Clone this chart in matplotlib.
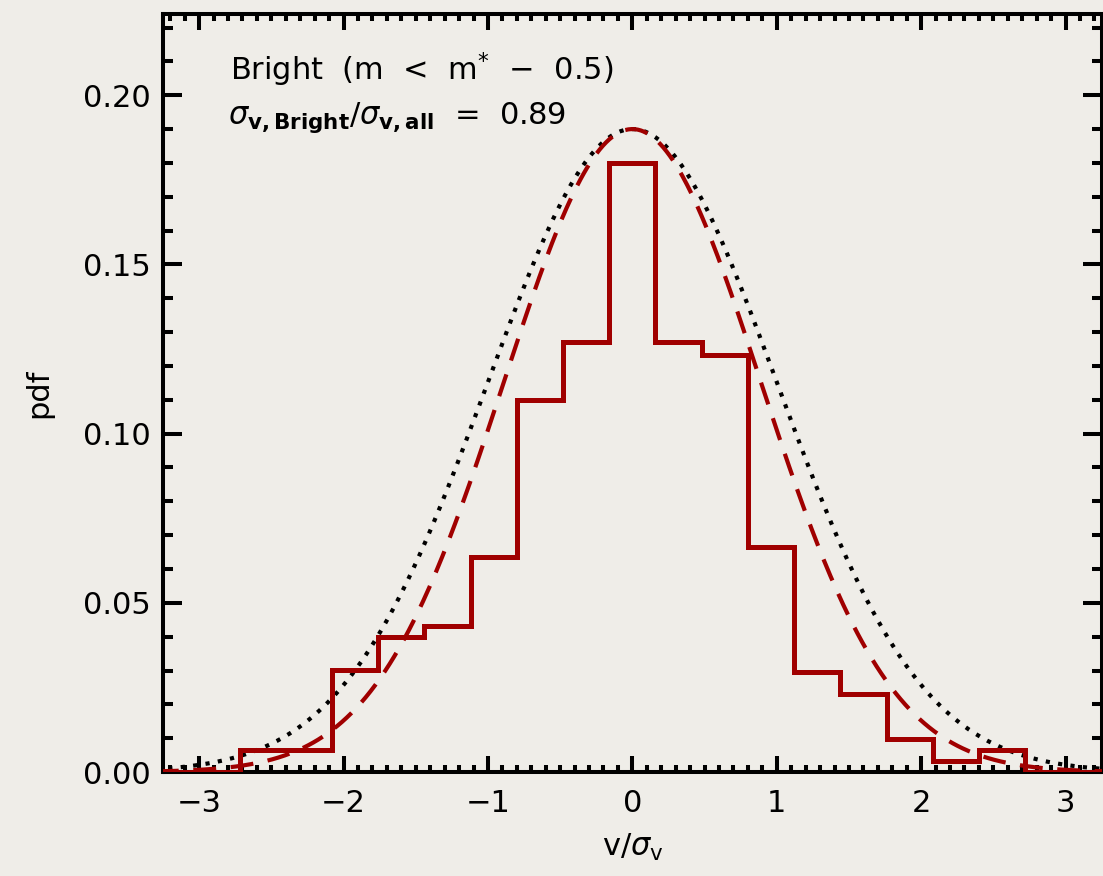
import matplotlib as mpl
mpl.use('Agg')
import matplotlib.pyplot as plt
import numpy as np
from matplotlib.ticker import MultipleLocator

mpl.rcParams['font.family'] = 'DejaVu Sans'
mpl.rcParams['font.size'] = 22
mpl.rcParams['mathtext.fontset'] = 'dejavusans'

# histograma (bins de largura 0.32, centrados em 0)
centros = np.array([-3.20, -2.88, -2.56, -2.24, -1.92, -1.60, -1.28, -0.96, -0.64, -0.32,
                    0.00, 0.32, 0.64, 0.96, 1.28, 1.60, 1.92, 2.24, 2.56, 2.88, 3.20])
pdf_bright = np.array([0.0, 0.0, 0.0065, 0.0065, 0.0301, 0.0398, 0.0431, 0.0634, 0.110, 0.127,
                       0.180, 0.127, 0.1233, 0.0664, 0.0295, 0.023, 0.0097, 0.0032, 0.0065, 0.0, 0.0])
largura = 0.32

# gaussianas
amp = 0.19
sigma_all = 1.0
sigma_bright = 0.89

vermelho = '#a00000'
fundo = '#efede8'

fig = plt.figure(figsize=(11.03, 8.76), dpi=100, facecolor=fundo)
ax = fig.add_axes([0.1478, 0.1187, 0.851, 0.8653], facecolor=fundo)

xg = np.linspace(-3.3, 3.3, 600)
ax.plot(xg, amp*np.exp(-xg**2/(2*sigma_all**2)), color='black', lw=3,
        linestyle=(0, (1.0, 2.0)), dash_capstyle='butt', zorder=2)
ax.plot(xg, amp*np.exp(-xg**2/(2*sigma_bright**2)), color=vermelho, lw=3,
        linestyle=(0, (5.5, 3.5)), zorder=3)

bordas = np.append(centros - largura/2, centros[-1] + largura/2)
ax.stairs(pdf_bright, bordas, color=vermelho, lw=3.6, zorder=4)

ax.set_xlim(-3.25, 3.25)
ax.set_ylim(0, 0.224)
ax.xaxis.set_major_locator(MultipleLocator(1))
ax.xaxis.set_minor_locator(MultipleLocator(0.1))
ax.yaxis.set_major_locator(MultipleLocator(0.05))
ax.yaxis.set_minor_locator(MultipleLocator(0.01))
ax.yaxis.set_major_formatter(mpl.ticker.FormatStrFormatter('%.2f'))

for s in ax.spines.values():
    s.set_linewidth(2.9)
ax.tick_params(which='both', direction='in', top=True, right=True, width=2.9)
ax.tick_params(axis='x', which='major', length=11.5, pad=12)
ax.tick_params(axis='x', which='minor', length=5)
ax.tick_params(axis='y', which='major', length=14, pad=9)
ax.tick_params(axis='y', which='minor', length=7)

ax.set_xlabel(r'v/$\sigma_{\rm v}$', labelpad=10)
ax.set_ylabel('pdf', labelpad=21)

ax.text(0.071, 0.926, r'Bright  (m  <  m$^{*}$  $-$  0.5)', transform=ax.transAxes, va='center')
ax.text(0.069, 0.863, r'$\sigma_{\mathbf{v,Bright}}/\sigma_{\mathbf{v,all}}$  =  0.89',
        transform=ax.transAxes, va='center')

plt.savefig('out.png', dpi=100, facecolor=fundo)
plt.close()
